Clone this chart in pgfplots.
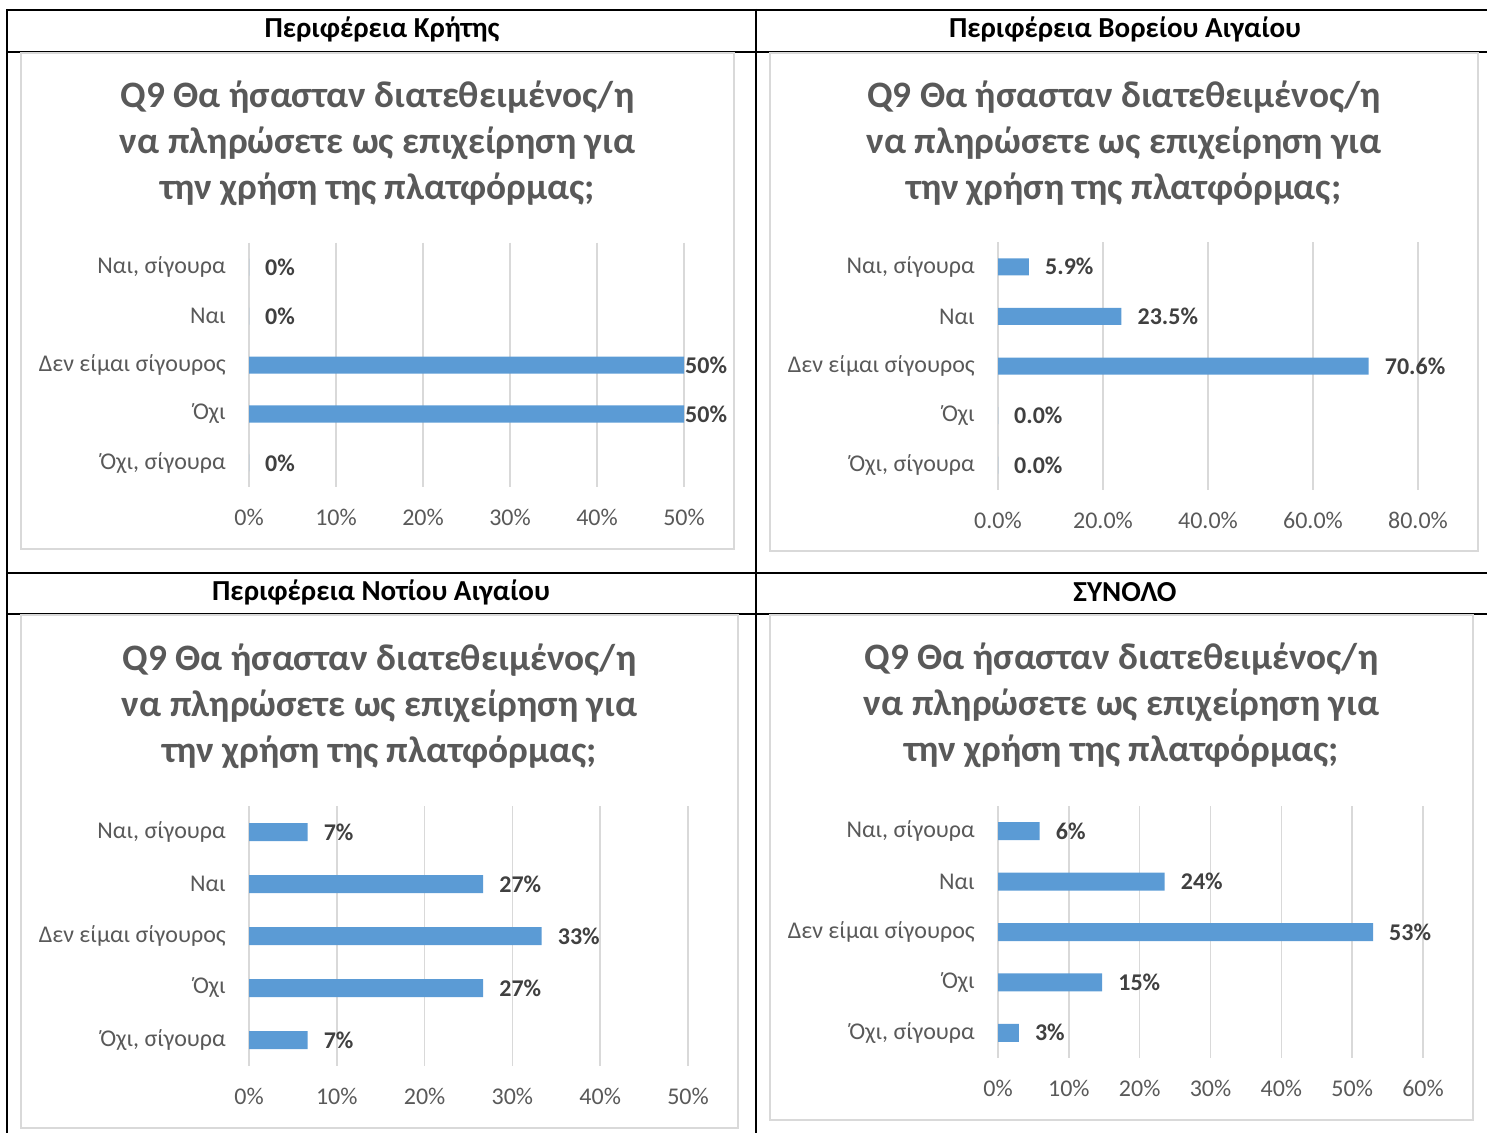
\documentclass[border=0pt]{standalone}
\usepackage{fontspec}
\setmainfont{Carlito}
\usepackage{pgfplots}
\pgfplotsset{compat=1.18}
\definecolor{barblue}{HTML}{5B9BD5}
\definecolor{txtgray}{HTML}{595959}
\definecolor{lblgray}{HTML}{404040}
\definecolor{gridgray}{HTML}{D9D9D9}
\pgfplotsset{
 panel/.style={
  xbar, scale only axis, bar shift=0pt,
  y dir=reverse, ymin=-0.5, ymax=4.5, xmin=0,
  ytick={0,1,2,3,4},
  yticklabels={{Ναι, σίγουρα},Ναι,{Δεν είμαι σίγουρος},Όχι,{Όχι, σίγουρα}},
  axis line style={draw=none},
  major tick length=0pt,
  xmajorgrids, ymajorgrids=false,
  major grid style={gridgray, line width=1.5pt},
  /pgf/number format/assume math mode=true,
  yticklabel style={font=\fontsize{24}{28}\selectfont, text=txtgray, inner sep=0pt, anchor=east, xshift=-23pt},
  xticklabel style={font=\fontsize{24}{28}\selectfont, text=txtgray, inner sep=0pt, anchor=center, yshift=-30pt},
  every node near coord/.append style={anchor=west, inner sep=0pt, font=\fontsize{24}{28}\selectfont\bfseries, text=lblgray},
  point meta=x,
 },
 barsty/.style={fill=barblue, draw=none},
}
\begin{document}
\begin{tikzpicture}[x=1pt,y=1pt]
\useasboundingbox (0pt,0pt) rectangle (1487pt,1133pt);
% table lines
\draw[black, line width=2pt] (6pt,1123pt) -- (1487pt,1123pt);
\draw[black, line width=2pt] (6pt,1081pt) -- (1487pt,1081pt);
\draw[black, line width=2pt] (6pt,560pt) -- (1487pt,560pt);
\draw[black, line width=2pt] (6pt,519pt) -- (1487pt,519pt);
\draw[black, line width=2pt] (7pt,1124pt) -- (7pt,0pt);
\draw[black, line width=2pt] (756pt,1124pt) -- (756pt,0pt);
% panel borders
\draw[gridgray, line width=2pt] (21pt,1080pt) rectangle (734pt,584pt);
\draw[gridgray, line width=2pt] (770pt,1080pt) rectangle (1478pt,582pt);
\draw[gridgray, line width=2pt] (21pt,518pt) rectangle (738pt,5pt);
\draw[gridgray, line width=2pt] (770pt,518pt) rectangle (1473pt,13pt);
% headers
\begin{scope}[every node/.style={font=\fontsize{29}{34}\selectfont\bfseries, text=black}]
\node at (382pt,1104pt) {Περιφέρεια Κρήτης};
\node at (1125pt,1104pt) {Περιφέρεια Βορείου Αιγαίου};
\node at (381pt,541pt) {Περιφέρεια Νοτίου Αιγαίου};
\node at (1125pt,541pt) {ΣΥΝΟΛΟ};
\end{scope}
% titles
\begin{scope}[every node/.style={align=center, font=\fontsize{37.3}{46}\selectfont\bfseries, text=txtgray}]
\node at (377.5pt,990pt) {Q9 Θα ήσασταν διατεθειμένος/η\\να πληρώσετε ως επιχείρηση για\\την χρήση της πλατφόρμας;};
\node at (1124pt,990pt) {Q9 Θα ήσασταν διατεθειμένος/η\\να πληρώσετε ως επιχείρηση για\\την χρήση της πλατφόρμας;};
\node at (379.5pt,427pt) {Q9 Θα ήσασταν διατεθειμένος/η\\να πληρώσετε ως επιχείρηση για\\την χρήση της πλατφόρμας;};
\node at (1121.5pt,428pt) {Q9 Θα ήσασταν διατεθειμένος/η\\να πληρώσετε ως επιχείρηση για\\την χρήση της πλατφόρμας;};
\end{scope}
% Panel 1: Κρήτη
\begin{axis}[panel, at={(249pt,645.5pt)}, anchor=south west, width=435pt, height=245pt,
  xmax=50, xtick={0,10,20,30,40,50}, xticklabels={0\%,10\%,20\%,30\%,40\%,50\%},
  bar width=17pt,
  nodes near coords={\pgfmathprintnumber[fixed,precision=0]{\pgfplotspointmeta}\%}]
\addplot[barsty, nodes near coords style={xshift=16pt}] coordinates {(0,0) (0,1) (0,4)};
\addplot[barsty, nodes near coords style={xshift=1pt}] coordinates {(50,2) (50,3)};
\end{axis}
% Panel 2: Βόρειο Αιγαίο
\begin{axis}[panel, at={(998pt,643pt)}, anchor=south west, width=420pt, height=248pt,
  xmax=80, xtick={0,20,40,60,80}, xticklabels={0.0\%,20.0\%,40.0\%,60.0\%,80.0\%},
  bar width=17pt,
  nodes near coords={\pgfmathprintnumber[fixed,fixed zerofill,precision=1]{\pgfplotspointmeta}\%},
  nodes near coords style={xshift=16pt}]
\addplot[barsty] coordinates {(5.9,0) (23.5,1) (70.6,2) (0,3) (0,4)};
\end{axis}
% Panel 3: Νότιο Αιγαίο
\begin{axis}[panel, at={(249pt,67pt)}, anchor=south west, width=439pt, height=260pt,
  xmax=50, xtick={0,10,20,30,40,50}, xticklabels={0\%,10\%,20\%,30\%,40\%,50\%},
  bar width=18pt,
  nodes near coords={\pgfmathprintnumber[fixed,precision=0]{\pgfplotspointmeta}\%},
  nodes near coords style={xshift=16pt}]
\addplot[barsty] coordinates {(6.67,0) (26.67,1) (33.33,2) (26.67,3) (6.67,4)};
\end{axis}
% Panel 4: Σύνολο
\begin{axis}[panel, at={(998pt,75pt)}, anchor=south west, width=425pt, height=252pt,
  xmax=60, xtick={0,10,20,30,40,50,60}, xticklabels={0\%,10\%,20\%,30\%,40\%,50\%,60\%},
  bar width=18pt,
  nodes near coords={\pgfmathprintnumber[fixed,precision=0]{\pgfplotspointmeta}\%},
  nodes near coords style={xshift=16pt}]
\addplot[barsty] coordinates {(5.88,0) (23.53,1) (52.94,2) (14.71,3) (2.94,4)};
\end{axis}
\end{tikzpicture}
\end{document}
